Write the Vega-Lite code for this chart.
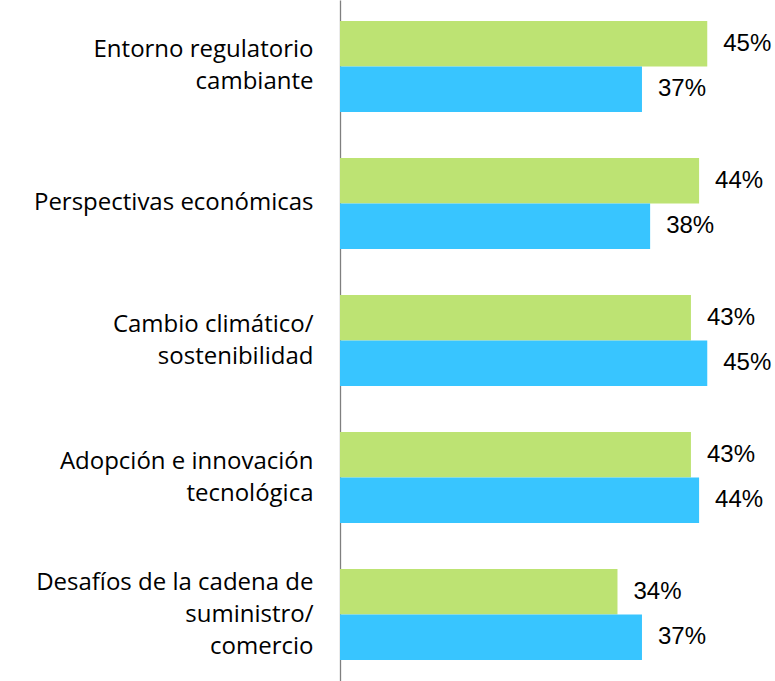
{
  "$schema": "https://vega.github.io/schema/vega-lite/v6.json",
  "autosize": {"type": "none"},
  "padding": {"left": 340, "top": 0, "right": 0, "bottom": 0},
  "width": 435,
  "height": 681,
  "background": "white",
  "config": {"view": {"stroke": null}},
  "data": {
    "values": [
      {"categoria": "Entorno regulatorio|cambiante", "serie": "Serie 1", "valor": 0.45},
      {"categoria": "Entorno regulatorio|cambiante", "serie": "Serie 2", "valor": 0.37},
      {"categoria": "Perspectivas económicas", "serie": "Serie 1", "valor": 0.44},
      {"categoria": "Perspectivas económicas", "serie": "Serie 2", "valor": 0.38},
      {"categoria": "Cambio climático/|sostenibilidad", "serie": "Serie 1", "valor": 0.43},
      {"categoria": "Cambio climático/|sostenibilidad", "serie": "Serie 2", "valor": 0.45},
      {"categoria": "Adopción e innovación|tecnológica", "serie": "Serie 1", "valor": 0.43},
      {"categoria": "Adopción e innovación|tecnológica", "serie": "Serie 2", "valor": 0.44},
      {"categoria": "Desafíos de la cadena de|suministro/|comercio", "serie": "Serie 1", "valor": 0.34},
      {"categoria": "Desafíos de la cadena de|suministro/|comercio", "serie": "Serie 2", "valor": 0.37}
    ]
  },
  "encoding": {
    "y": {
      "field": "categoria",
      "type": "nominal",
      "sort": null,
      "scale": {"paddingInner": 0.336, "paddingOuter": 0.153},
      "axis": {
        "title": null,
        "ticks": false,
        "labelExpr": "split(datum.label, '|')",
        "labelFont": "Open Sans",
        "labelFontSize": 24,
        "labelColor": "#000000",
        "labelPadding": 27,
        "labelLineHeight": 32,
        "labelLimit": 400,
        "domainColor": "#7f7f7f",
        "domainWidth": 1.3,
        "grid": false,
        "labelOffset": {
          "condition": [
            {"test": "length(split(datum.value, '|')) == 3", "value": -32},
            {"test": "length(split(datum.value, '|')) == 2", "value": -16}
          ],
          "value": 0
        }
      }
    },
    "yOffset": {"field": "serie", "type": "nominal", "sort": ["Serie 1", "Serie 2"]},
    "x": {
      "field": "valor",
      "type": "quantitative",
      "scale": {"domain": [0, 0.533], "nice": false},
      "axis": null
    }
  },
  "layer": [
    {
      "mark": {"type": "bar"},
      "encoding": {
        "color": {
          "field": "serie",
          "type": "nominal",
          "scale": {"domain": ["Serie 1", "Serie 2"], "range": ["#BDE373", "#38C5FF"]},
          "legend": null
        }
      }
    },
    {
      "mark": {"type": "text", "align": "left", "baseline": "middle", "dx": 16, "font": "Liberation Sans", "fontSize": 24, "color": "#000000"},
      "encoding": {
        "text": {"field": "valor", "type": "quantitative", "format": ".0%"}
      }
    }
  ]
}
